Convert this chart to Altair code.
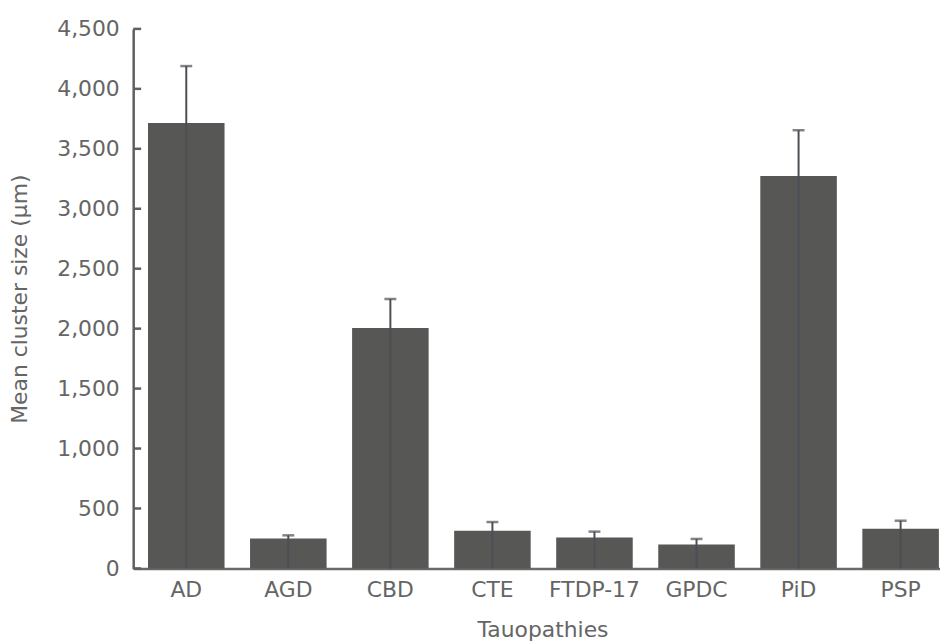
import altair as alt
import pandas as pd

categories = ["AD", "AGD", "CBD", "CTE", "FTDP-17", "GPDC", "PiD", "PSP"]
means = [3715, 249, 2005, 315, 257, 199, 3273, 331]
upper = [4190, 276, 2248, 387, 307, 246, 3655, 398]
y_ticks = [0, 500, 1000, 1500, 2000, 2500, 3000, 3500, 4000, 4500]

df = pd.DataFrame({"cat": categories, "mean": means, "upper": upper})
tick_df = pd.DataFrame({"t": y_ticks})

FONT = "DejaVu Sans"
FS = 22
TXT = "#656565"
AX = "#5f5f5f"

xscale = alt.Scale(domain=categories, paddingInner=0.25, paddingOuter=0.078, align=0.93)
yscale = alt.Scale(domain=[0, 4500], nice=False, zero=True)

x_enc = alt.X("cat:N", scale=xscale, sort=categories,
              axis=alt.Axis(title="Tauopathies", labelAngle=0, ticks=False,
                            domainColor="#6a6a6a", domainWidth=2.5,
                            labelPadding=11, labelFontSize=FS, labelColor=TXT,
                            labelFont=FONT, titleFont=FONT, titleFontSize=FS,
                            titleFontWeight="normal", titleColor=TXT,
                            titlePadding=20, titleX=412, titleAlign="center"))

bars = alt.Chart(df).mark_bar(color="#575756").encode(
    x=x_enc,
    y=alt.Y("mean:Q", scale=yscale,
            axis=alt.Axis(title="Mean cluster size (µm)", values=y_ticks,
                          format=",d", ticks=False, grid=False,
                          domainColor=AX, domainWidth=2.5,
                          labelPadding=14, labelFontSize=FS, labelColor=TXT,
                          labelFont=FONT, titleFont=FONT, titleFontSize=FS,
                          titleFontWeight="normal", titleColor=TXT,
                          titleX=-102, titleBaseline="bottom")),
)

err = alt.Chart(df).mark_rule(color="#4b4f54", strokeWidth=2).encode(
    x=alt.X("cat:N", scale=xscale, sort=categories),
    y=alt.Y("upper:Q", scale=yscale),
    y2=alt.datum(0),
)

caps = alt.Chart(df).mark_tick(color="#4b4f54", thickness=2.5, size=12, orient="horizontal").encode(
    x=alt.X("cat:N", scale=xscale, sort=categories),
    y=alt.Y("upper:Q", scale=yscale),
)

yticks = alt.Chart(tick_df).mark_rule(color=AX, strokeWidth=2.5).encode(
    y=alt.Y("t:Q", scale=yscale),
    x=alt.value(0),
    x2=alt.value(8),
)

chart = alt.layer(bars, err, caps, yticks).properties(
    width=812, height=543,
    background="white",
    autosize=alt.AutoSizeParams(type="none"),
    padding={"left": 126, "top": 19, "right": 0, "bottom": 72},
).configure_view(strokeWidth=0, stroke="transparent").configure_axis(grid=False)

chart.save("out.html", embed_options={"renderer": "svg", "actions": False})
